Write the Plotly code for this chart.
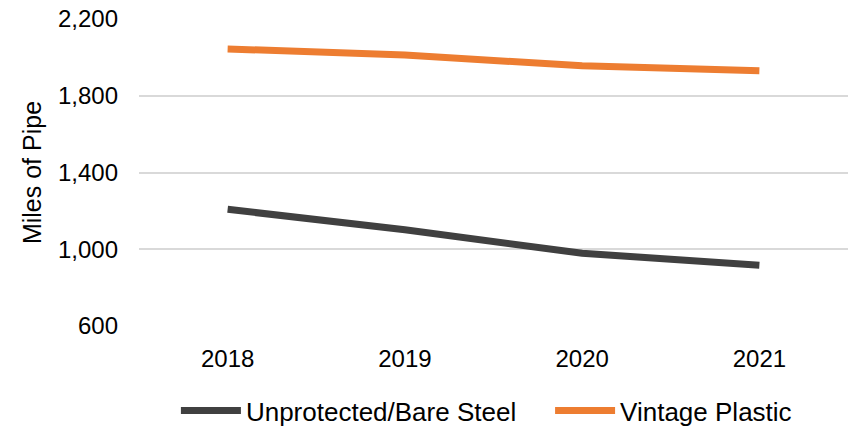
import plotly.graph_objects as go

years = ["2018", "2019", "2020", "2021"]
bare_steel = [1208, 1102, 979, 917]
vintage_plastic = [2044, 2012, 1956, 1930]
y_ticks = [600, 1000, 1400, 1800, 2200]

FONT = "Liberation Sans, Arial, sans-serif"
GAP = "\u00a0" * 4  # extra space between legend entries

fig = go.Figure()
fig.add_trace(go.Scatter(
    x=years, y=bare_steel, mode="lines", name="Unprotected/Bare Steel" + GAP,
    line=dict(color="#404040", width=7),
))
fig.add_trace(go.Scatter(
    x=years, y=vintage_plastic, mode="lines", name="Vintage Plastic",
    line=dict(color="#ED7D31", width=7),
))

# div is a bit taller than the window so the legend doesn't push the margins
fig.update_layout(
    width=848, height=434,
    margin=dict(l=139, r=0, t=19, b=108),
    paper_bgcolor="white", plot_bgcolor="white",
    font=dict(family=FONT, size=24, color="#000000"),
    showlegend=True,
    legend=dict(
        orientation="h", x=0.49, xanchor="center", y=-0.277, yanchor="middle",
        font=dict(size=26), tracegroupgap=0, itemwidth=60,
    ),
    xaxis=dict(
        type="category", range=[-0.5, 3.5], showgrid=False, zeroline=False,
        showline=False, ticks="", tickfont=dict(size=24),
        ticklabelstandoff=16, automargin=False,
    ),
    yaxis=dict(
        range=[600, 2200], tickvals=y_ticks, tickformat=",d",
        showgrid=True, gridcolor="#D9D9D9", gridwidth=1.5, zeroline=False,
        showline=False, ticks="", tickfont=dict(size=24),
        ticklabelstandoff=20, automargin=False,
        title=dict(text="Miles of Pipe", font=dict(size=25), standoff=9),
    ),
)

# drop the browser's default 8px body margin so the figure sits at 0,0
fig.write_html(
    "out.html",
    config={"displayModeBar": False},
    post_script="document.body.style.margin = '0';",
)
